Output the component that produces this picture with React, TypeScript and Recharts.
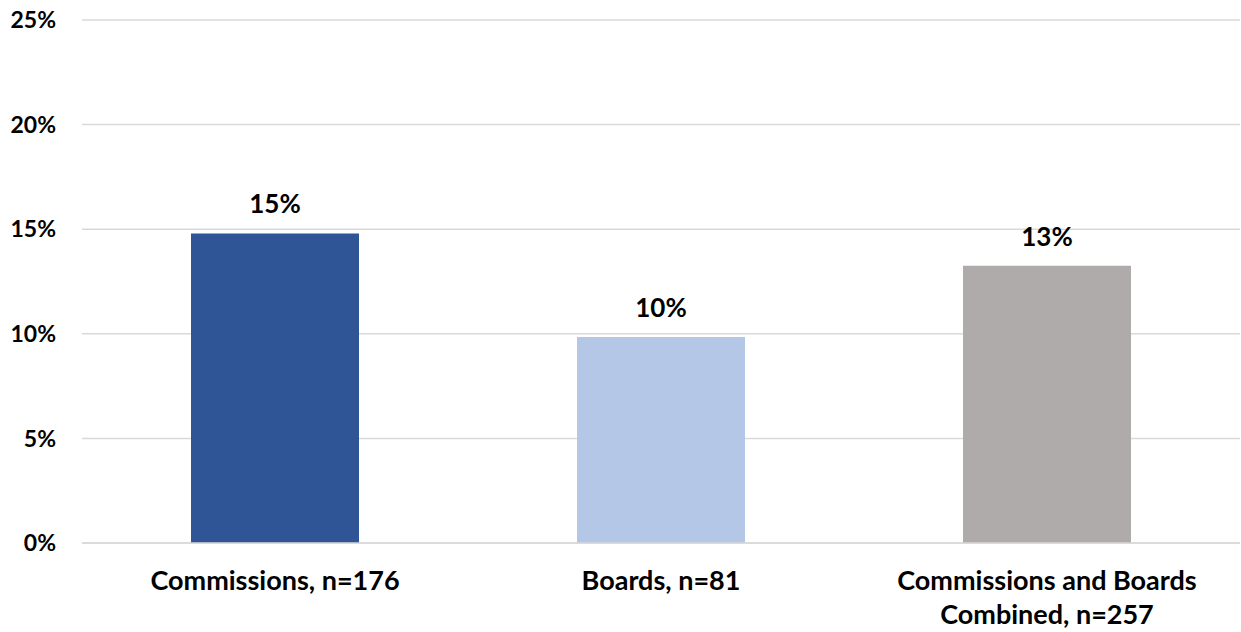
import { Bar, BarChart, CartesianGrid, Cell, LabelList, XAxis, YAxis } from "recharts";

const FONT = "Lato, 'Liberation Sans', sans-serif";
const GRID = "#d9d9d9";
const INK = "#000000";

const categories = ["Commissions, n=176", "Boards, n=81", "Commissions and Boards Combined, n=257"];
const shares = [14.8, 9.85, 13.25];
const barColors = ["#2f5597", "#b4c7e7", "#afabab"];
const yTicks = [0, 5, 10, 15, 20, 25];

const data = categories.map((name, i) => ({ name, v: shares[i] }));

const MAX_CHARS = 24;
const LINE_H = 34;

// greedy word wrap by character count
function wrap(label: string) {
  const lines: string[] = [];
  let cur = "";
  for (const w of label.split(" ")) {
    const next = cur ? `${cur} ${w}` : w;
    if (next.length > MAX_CHARS && cur) {
      lines.push(cur);
      cur = w;
    } else cur = next;
  }
  if (cur) lines.push(cur);
  return lines;
}

function CategoryTick({ x, y, payload }: any) {
  const lines = wrap(payload.value);
  return (
    <text x={x} y={y} textAnchor="middle" fontFamily={FONT} fontWeight={700} fontSize={27} fill={INK}>
      {lines.map((l, i) => (
        <tspan key={i} x={x} dy={i === 0 ? 19 : LINE_H}>{l}</tspan>
      ))}
    </text>
  );
}

export default function App() {
  return (
    <div style={{ position: "absolute", left: 0, top: 0, background: "#fff" }}>
      <BarChart width={1241} height={632} data={data}
                margin={{ top: 20, right: 1, bottom: 0, left: 0 }} barSize={168}>
        <CartesianGrid stroke={GRID} strokeWidth={1.5} vertical={false} />
        <XAxis dataKey="name" axisLine={{ stroke: GRID, strokeWidth: 1.5 }} tickLine={false}
               tickSize={0} tickMargin={28} height={89} interval={0} tick={<CategoryTick />} />
        <YAxis domain={[0, 25]} ticks={yTicks} width={82} axisLine={false} tickLine={false}
               tickSize={0} tickMargin={26} tickFormatter={(v) => `${v}%`}
               tick={{ fontFamily: FONT, fontWeight: 700, fontSize: 23, fill: INK }} />
        <Bar dataKey="v" isAnimationActive={false}>
          {data.map((d, i) => <Cell key={d.name} fill={barColors[i]} />)}
          <LabelList dataKey="v" position="top" offset={20}
                     formatter={(v: any) => `${Math.round(v)}%`}
                     style={{ fontFamily: FONT, fontWeight: 700, fontSize: 26, fill: INK }} />
        </Bar>
      </BarChart>
    </div>
  );
}
